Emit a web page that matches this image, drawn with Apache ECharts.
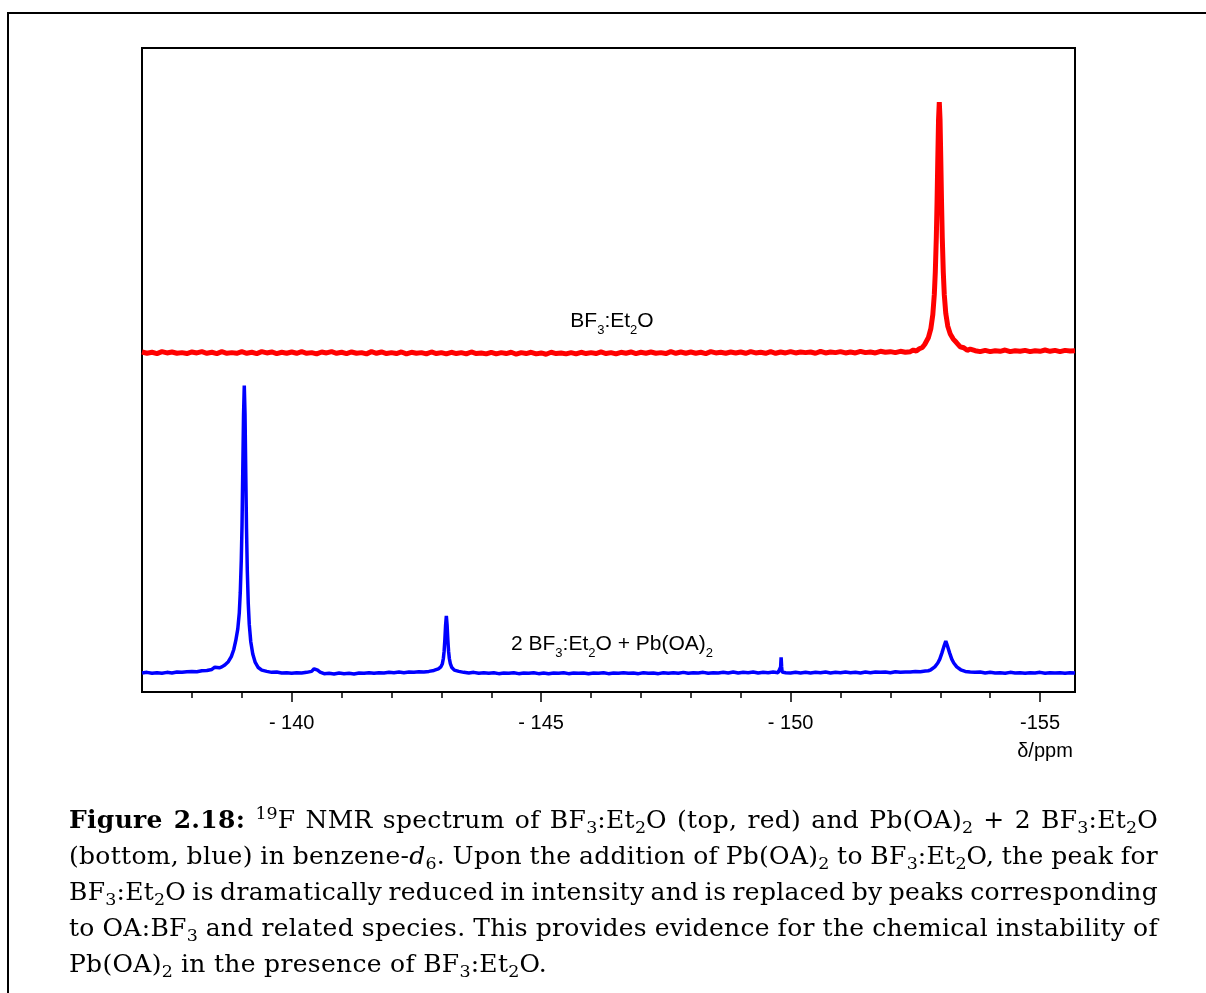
<!DOCTYPE html>
<html>
<head>
<meta charset="utf-8">
<script src="https://cdn.jsdelivr.net/npm/echarts@6/dist/echarts.min.js"></script>
<style>
  html, body { margin:0; padding:0; background:#fff; width:1206px; height:993px; overflow:hidden; }
  #frame { position:absolute; left:7px; top:12px; width:1400px; height:1200px; border:2.6px solid #000; box-sizing:border-box; }
  #chart { position:absolute; left:0; top:0; width:1206px; height:993px; }
  #cap { position:absolute; left:69px; top:802px; width:1089px; font-family:"DejaVu Serif", serif; font-size:25px; letter-spacing:0.3px; line-height:36px; color:#000; }
  #cap .ln { white-space:nowrap; display:block; }
  #cap .ln span.inner { display:inline-block; }
  #cap sub { font-size:0.7em; vertical-align:-0.3em; line-height:0; letter-spacing:0; }
  #cap sup { font-size:0.7em; vertical-align:0.5em; line-height:0; letter-spacing:0; }
</style>
</head>
<body>
<div id="frame"></div>
<div id="chart"></div>
<div id="cap">
  <div class="ln" data-j="1"><b>Figure 2.18:</b> <sup>19</sup>F NMR spectrum of BF<sub>3</sub>:Et<sub>2</sub>O (top, red) and Pb(OA)<sub>2</sub> + 2 BF<sub>3</sub>:Et<sub>2</sub>O</div>
  <div class="ln" data-j="1">(bottom, blue) in benzene-<i>d</i><sub>6</sub>. Upon the addition of Pb(OA)<sub>2</sub> to BF<sub>3</sub>:Et<sub>2</sub>O, the peak for</div>
  <div class="ln" data-j="1">BF<sub>3</sub>:Et<sub>2</sub>O is dramatically reduced in intensity and is replaced by peaks corresponding</div>
  <div class="ln" data-j="1">to OA:BF<sub>3</sub> and related species. This provides evidence for the chemical instability of</div>
  <div class="ln" data-j="0">Pb(OA)<sub>2</sub> in the presence of BF<sub>3</sub>:Et<sub>2</sub>O.</div>
</div>
<script>
// ---- axis ticks ----
const minorTicks = [-138,-139,-140,-141,-142,-143,-144,-145,-146,-147,-148,-149,-150,-151,-152,-153,-154,-155];
const majorTicks = [-140,-145,-150,-155];
const majorTickLabels = ['- 140','- 145','- 150','-155'];
const axisTitle = 'δ/ppm';

// ---- top trace: BF3:Et2O (red)  [ppm, intensity] ----
const redTrace = [
[-137.0,52.8],[-137.1,52.6],[-137.2,52.75],[-137.3,52.55],[-137.4,52.85],[-137.5,52.65],[-137.6,52.8],[-137.7,52.6],[-137.8,52.7],[-137.9,52.55],
[-138.0,52.8],[-138.1,52.65],[-138.2,52.85],[-138.3,52.6],[-138.4,52.75],[-138.5,52.55],[-138.6,52.85],[-138.7,52.6],[-138.8,52.7],[-138.9,52.6],
[-139.0,52.85],[-139.1,52.6],[-139.2,52.75],[-139.3,52.55],[-139.4,52.85],[-139.5,52.65],[-139.6,52.8],[-139.7,52.55],[-139.8,52.75],[-139.9,52.6],
[-140.0,52.8],[-140.1,52.6],[-140.2,52.85],[-140.3,52.6],[-140.4,52.7],[-140.5,52.5],[-140.6,52.8],[-140.7,52.65],[-140.8,52.85],[-140.9,52.6],
[-141.0,52.75],[-141.1,52.55],[-141.2,52.8],[-141.3,52.6],[-141.4,52.7],[-141.5,52.5],[-141.6,52.85],[-141.7,52.6],[-141.8,52.8],[-141.9,52.55],
[-142.0,52.7],[-142.1,52.55],[-142.2,52.8],[-142.3,52.5],[-142.4,52.75],[-142.5,52.6],[-142.6,52.7],[-142.7,52.5],[-142.8,52.8],[-142.9,52.55],
[-143.0,52.7],[-143.1,52.5],[-143.2,52.75],[-143.3,52.55],[-143.4,52.7],[-143.5,52.5],[-143.6,52.8],[-143.7,52.55],[-143.8,52.65],[-143.9,52.5],
[-144.0,52.75],[-144.1,52.5],[-144.2,52.7],[-144.3,52.55],[-144.4,52.75],[-144.5,52.45],[-144.6,52.7],[-144.7,52.55],[-144.8,52.75],[-144.9,52.5],
[-145.0,52.65],[-145.1,52.45],[-145.2,52.75],[-145.3,52.55],[-145.4,52.65],[-145.5,52.5],[-145.6,52.7],[-145.7,52.5],[-145.8,52.75],[-145.9,52.55],
[-146.0,52.7],[-146.1,52.55],[-146.2,52.8],[-146.3,52.55],[-146.4,52.7],[-146.5,52.5],[-146.6,52.75],[-146.7,52.6],[-146.8,52.8],[-146.9,52.55],
[-147.0,52.75],[-147.1,52.6],[-147.2,52.8],[-147.3,52.6],[-147.4,52.7],[-147.5,52.55],[-147.6,52.85],[-147.7,52.6],[-147.8,52.8],[-147.9,52.6],
[-148.0,52.8],[-148.1,52.6],[-148.2,52.75],[-148.3,52.55],[-148.4,52.85],[-148.5,52.65],[-148.6,52.75],[-148.7,52.6],[-148.8,52.8],[-148.9,52.65],
[-149.0,52.8],[-149.1,52.6],[-149.2,52.85],[-149.3,52.65],[-149.4,52.75],[-149.5,52.6],[-149.6,52.85],[-149.7,52.6],[-149.8,52.8],[-149.9,52.65],
[-150.0,52.85],[-150.1,52.65],[-150.2,52.8],[-150.3,52.7],[-150.4,52.8],[-150.5,52.6],[-150.6,52.9],[-150.7,52.65],[-150.8,52.8],[-150.9,52.7],
[-151.0,52.85],[-151.1,52.65],[-151.2,52.8],[-151.3,52.65],[-151.4,52.9],[-151.5,52.7],[-151.6,52.8],[-151.7,52.65],[-151.8,52.9],[-151.9,52.75],
[-152.0,52.85],[-152.1,52.7],[-152.2,52.9],[-152.3,52.75],[-152.4,52.85],
[-152.46,53.1],[-152.52,52.95],[-152.58,53.3],[-152.64,53.5],[-152.69,54.0],[-152.76,55.0],[-152.81,56.4],[-152.85,58.6],[-152.88,61.7],[-152.90,65.2],
[-152.92,70.5],[-152.935,76.0],[-152.95,82.7],[-152.965,88.9],[-152.98,91.6],[-152.995,88.9],[-153.01,82.7],[-153.025,76.0],[-153.04,70.5],[-153.06,65.2],
[-153.08,61.7],[-153.11,58.8],[-153.15,56.8],[-153.20,55.6],[-153.26,54.8],[-153.32,54.3],[-153.40,53.6],[-153.47,53.45],[-153.54,53.05],[-153.60,53.25],
[-153.7,53.0],[-153.8,52.85],[-153.9,53.05],[-154.0,52.85],[-154.1,53.0],[-154.2,52.9],[-154.3,53.1],[-154.4,52.85],[-154.5,53.0],[-154.6,52.9],
[-154.7,53.05],[-154.8,52.85],[-154.9,53.0],[-155.0,52.9],[-155.1,53.1],[-155.2,52.9],[-155.3,53.05],[-155.4,52.85],[-155.5,53.05],[-155.6,52.95],[-155.7,53.0]
];

// ---- bottom trace: 2 BF3:Et2O + Pb(OA)2 (blue)  [ppm, intensity] ----
const blueTrace = [
[-137.0,2.95],[-137.1,3.05],[-137.2,2.9],[-137.3,3.0],[-137.4,2.9],[-137.5,3.05],[-137.6,2.95],[-137.7,3.1],[-137.8,3.05],[-137.9,3.15],
[-138.0,3.2],[-138.1,3.15],[-138.2,3.3],[-138.3,3.35],[-138.4,3.5],[-138.46,3.85],[-138.5,3.65],[-138.55,3.75],[-138.6,3.9],[-138.66,4.2],
[-138.73,4.7],[-138.79,5.5],[-138.84,6.6],[-138.88,8.0],[-138.92,9.8],[-138.95,12.3],[-138.97,15.5],[-138.99,20.5],[-139.005,26.0],[-139.02,34.5],
[-139.035,43.0],[-139.05,47.6],[-139.065,43.1],[-139.08,33.9],[-139.095,25.3],[-139.11,19.0],[-139.13,13.7],[-139.15,10.5],[-139.18,7.8],[-139.22,5.9],
[-139.27,4.6],[-139.33,3.8],[-139.4,3.4],[-139.5,3.2],[-139.6,3.05],[-139.7,3.1],[-139.8,2.95],[-139.9,3.0],[-140.0,2.9],[-140.1,3.0],
[-140.2,2.95],[-140.3,3.05],[-140.4,3.2],[-140.45,3.6],[-140.48,3.85],[-140.52,3.4],[-140.57,3.1],[-140.65,2.85],[-140.75,2.9],[-140.85,2.8],
[-140.95,2.95],[-141.05,2.85],[-141.15,2.9],[-141.25,2.8],[-141.35,2.95],[-141.45,2.9],[-141.55,3.0],[-141.65,2.9],[-141.75,3.0],[-141.85,2.95],
[-141.95,3.05],[-142.05,3.0],[-142.15,3.1],[-142.25,3.0],[-142.35,3.1],[-142.45,3.05],[-142.55,3.15],[-142.65,3.1],[-142.75,3.2],[-142.85,3.35],
[-142.94,3.6],[-142.99,3.9],[-143.02,4.4],[-143.04,5.2],[-143.055,6.3],[-143.07,8.1],[-143.085,10.4],[-143.10,11.8],[-143.115,10.4],[-143.13,8.1],
[-143.145,6.3],[-143.16,5.2],[-143.18,4.4],[-143.21,3.8],[-143.26,3.4],[-143.35,3.2],[-143.45,3.05],[-143.55,2.95],[-143.65,3.05],[-143.75,2.9],
[-143.85,3.0],[-143.95,2.9],[-144.05,3.0],[-144.15,2.85],[-144.25,2.95],[-144.35,2.9],[-144.45,3.0],[-144.55,2.85],[-144.65,2.95],[-144.75,2.9],
[-144.85,3.0],[-144.95,2.85],[-145.05,2.95],[-145.15,2.85],[-145.25,2.95],[-145.35,2.9],[-145.45,3.0],[-145.55,2.85],[-145.65,2.95],[-145.75,2.9],
[-145.85,2.95],[-145.95,2.85],[-146.05,2.95],[-146.15,2.9],[-146.25,3.0],[-146.35,2.85],[-146.45,2.95],[-146.55,2.9],[-146.65,3.0],[-146.75,2.9],
[-146.85,2.95],[-146.95,2.85],[-147.05,3.0],[-147.15,2.9],[-147.25,2.95],[-147.35,2.85],[-147.45,3.0],[-147.55,2.9],[-147.65,3.0],[-147.75,2.9],
[-147.85,3.05],[-147.95,2.9],[-148.05,3.0],[-148.15,2.95],[-148.25,3.05],[-148.35,2.9],[-148.45,3.0],[-148.55,2.95],[-148.65,3.05],[-148.75,2.95],
[-148.85,3.1],[-148.95,2.95],[-149.05,3.05],[-149.15,3.0],[-149.25,3.1],[-149.35,2.95],[-149.45,3.05],[-149.55,3.0],[-149.65,3.1],[-149.75,3.0],
[-149.79,3.1],[-149.80,3.9],[-149.81,5.4],[-149.82,3.9],[-149.83,3.1],[-149.9,3.0],[-150.0,2.95],[-150.1,3.05],[-150.2,2.95],[-150.3,3.05],
[-150.4,2.95],[-150.5,3.05],[-150.6,3.0],[-150.7,3.1],[-150.8,2.95],[-150.9,3.05],[-151.0,3.0],[-151.1,3.1],[-151.2,3.0],[-151.3,3.05],
[-151.4,2.95],[-151.5,3.1],[-151.6,3.0],[-151.7,3.1],[-151.8,3.05],[-151.9,3.1],[-152.0,3.0],[-152.1,3.15],[-152.2,3.05],[-152.3,3.1],
[-152.4,3.1],[-152.5,3.2],[-152.6,3.15],[-152.7,3.25],[-152.76,3.3],[-152.81,3.45],[-152.89,3.9],[-152.95,4.5],[-152.99,5.1],[-153.03,6.0],
[-153.07,7.0],[-153.11,7.9],[-153.15,7.0],[-153.19,6.0],[-153.23,5.1],[-153.27,4.5],[-153.33,3.9],[-153.41,3.45],[-153.5,3.2],[-153.6,3.1],
[-153.7,3.05],[-153.8,3.1],[-153.9,2.95],[-154.0,3.05],[-154.1,2.95],[-154.2,3.0],[-154.3,2.9],[-154.4,3.05],[-154.5,2.95],[-154.6,3.0],
[-154.7,2.9],[-154.8,3.0],[-154.9,2.95],[-155.0,3.05],[-155.1,2.9],[-155.2,3.0],[-155.3,2.95],[-155.4,3.0],[-155.5,2.9],[-155.6,3.0],[-155.7,2.95]
];

const seriesNames = ['BF3:Et2O', '2 BF3:Et2O + Pb(OA)2'];

const chart = echarts.init(document.getElementById('chart'), null, {renderer:'canvas'});
const sans = '"Liberation Sans", Arial, Helvetica, sans-serif';
const richStyles = {
  a: { fontSize: 21, fontFamily: sans, color: '#000', lineHeight: 21, verticalAlign: 'top' },
  s: { fontSize: 13, fontFamily: sans, color: '#000', lineHeight: 13, verticalAlign: 'top', padding: [13, 0, 0, 0] }
};

const option = {
  animation: false,
  backgroundColor: 'transparent',
  grid: { left: 142, top: 48, width: 933, height: 644, show: true, borderColor: '#000', borderWidth: 2, backgroundColor: 'transparent', containLabel: false },
  xAxis: [
    { type: 'value', min: -155.7, max: -137, inverse: true, position: 'bottom', gridIndex: 0,
      axisLine: { show: false },
      axisTick: { show: true, customValues: minorTicks, length: 6, lineStyle: { color: '#000', width: 1.5 } },
      axisLabel: { show: false }, splitLine: { show: false } },
    { type: 'value', min: -155.7, max: -137, inverse: true, position: 'bottom', gridIndex: 0,
      axisLine: { show: true, lineStyle: { color: '#000', width: 2 } },
      axisTick: { show: true, customValues: majorTicks, length: 10, lineStyle: { color: '#000', width: 1.5 } },
      axisLabel: { show: true, customValues: majorTicks, margin: 21, fontSize: 20, fontFamily: sans, color: '#000',
        formatter: function (v) { const i = majorTicks.indexOf(Math.round(v)); return i >= 0 ? majorTickLabels[i] : ''; } },
      splitLine: { show: false } }
  ],
  yAxis: { type: 'value', min: 0, max: 100, show: false, splitLine: { show: false } },
  series: [
    { name: seriesNames[0], type: 'line', xAxisIndex: 0, data: redTrace, showSymbol: false, symbol: 'none', clip: true,
      lineStyle: { color: '#ff0000', width: 5 }, itemStyle: { color: '#ff0000' } },
    { name: seriesNames[1], type: 'line', xAxisIndex: 0, data: blueTrace, showSymbol: false, symbol: 'none', clip: true,
      lineStyle: { color: '#0000ff', width: 3.5 }, itemStyle: { color: '#0000ff' } }
  ],
  graphic: [
    { type: 'text', x: 612, y: 321, style: { text: '{a|BF}{s|3}{a|:Et}{s|2}{a|O}', rich: richStyles, align: 'center', verticalAlign: 'middle' } },
    { type: 'text', x: 612, y: 644, style: { text: '{a|2 BF}{s|3}{a|:Et}{s|2}{a|O + Pb(OA)}{s|2}', rich: richStyles, align: 'center', verticalAlign: 'middle' } },
    { type: 'text', x: 1045, y: 751, style: { text: axisTitle, fontSize: 20, fontFamily: sans, fill: '#000', align: 'center', verticalAlign: 'middle' } }
  ]
};
chart.setOption(option);

// justify caption lines to the full column width
(function () {
  const W = 1089;
  document.querySelectorAll('#cap .ln').forEach(function (ln) {
    if (ln.getAttribute('data-j') !== '1') return;
    const inner = document.createElement('span');
    inner.className = 'inner';
    while (ln.firstChild) inner.appendChild(ln.firstChild);
    ln.appendChild(inner);
    const w = inner.getBoundingClientRect().width;
    const spaces = (inner.textContent.match(/ /g) || []).length;
    if (spaces > 0) inner.style.wordSpacing = ((W - w) / spaces) + 'px';
  });
})();
</script>
</body>
</html>
